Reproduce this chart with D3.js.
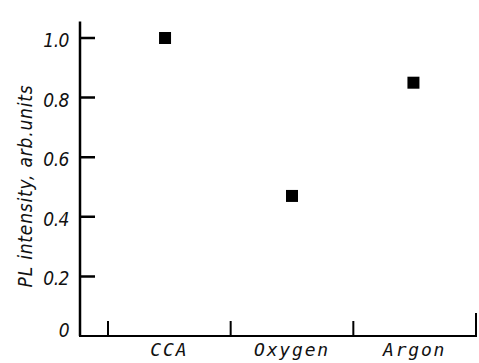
<!DOCTYPE html>
<html><head><meta charset="utf-8">
<script src="https://cdn.jsdelivr.net/npm/d3@7"></script>
<style>body{margin:0;background:#fff}text{font-style:italic;fill:#111}
.mono{font-family:"DejaVu Sans Mono",monospace}
.cond{font-family:"DejaVu Sans Condensed","DejaVu Sans",sans-serif}</style>
</head><body><svg id="c" width="479" height="363"></svg>
<script>
const categories = ["CCA", "Oxygen", "Argon"];
const categoryPos = [0.5, 1.5, 2.5];
const pointPos = [0.465, 1.5, 2.49];
const values = [1.0, 0.47, 0.85];
const yTicks = [0, 0.2, 0.4, 0.6, 0.8, 1.0];
const yTickLabels = ["0", "0.2", "0.4", "0.6", "0.8", "1.0"];
const xTicks = [0, 1, 2, 3];
const yTitle = "PL intensity, arb.units";

const svg = d3.select("#c");
const x = d3.scaleLinear().domain([0, 3]).range([108, 476]);
const y = d3.scaleLinear().domain([0, 1]).range([336, 38]);
const x0 = 80;

// y axis with inward ticks as one path
const p = d3.path();
p.moveTo(x0, y(1.055)); p.lineTo(x0, y(0));
yTicks.filter(d => d > 0).forEach(d => { p.moveTo(x0, y(d)); p.lineTo(x0 + 15, y(d)); });
svg.append("path").attr("d", p.toString()).attr("fill", "none")
  .attr("stroke", "#000").attr("stroke-width", 2.5);

// x axis with inward ticks as one path
const q = d3.path();
q.moveTo(x0 - 1, y(0)); q.lineTo(x(3) + 1, y(0));
xTicks.forEach(d => { q.moveTo(x(d), y(0)); q.lineTo(x(d), d === 3 ? y(0) - 23 : y(0) - 15); });
svg.append("path").attr("d", q.toString()).attr("fill", "none")
  .attr("stroke", "#000").attr("stroke-width", 2);

svg.selectAll(".ylab").data(yTicks).enter().append("text").attr("class", "cond")
  .attr("x", 69).attr("y", d => d === 0 ? y(d) + 1 : y(d) + 9)
  .attr("text-anchor", "end").attr("font-size", 19).attr("letter-spacing", -0.5)
  .text((d, i) => yTickLabels[i]);

svg.selectAll(".xlab").data(categories).enter().append("text").attr("class", "mono")
  .attr("x", (d, i) => x(categoryPos[i])).attr("y", 356)
  .attr("text-anchor", "middle").attr("font-size", 18).attr("letter-spacing", 1.8)
  .text(d => d);

// y title
svg.append("text").attr("class", "cond").attr("transform", "translate(32,186) rotate(-90)")
  .attr("text-anchor", "middle").attr("font-size", 19).attr("letter-spacing", 0.8)
  .text(yTitle);

// points
const s = 12;
svg.selectAll(".pt").data(values).enter().append("rect")
  .attr("x", (d, i) => x(pointPos[i]) - s/2).attr("y", d => y(d) - s/2)
  .attr("width", s).attr("height", s).attr("fill", "#000");
</script></body></html>
